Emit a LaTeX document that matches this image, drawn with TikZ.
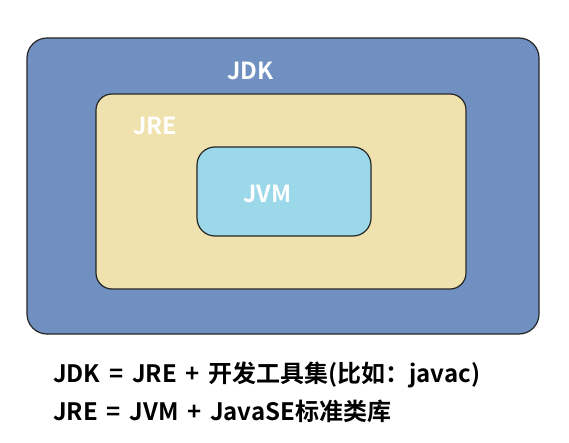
\documentclass[tikz,border=0pt]{standalone}
\usepackage{fontspec}
\newfontfamily\cjk{Noto Sans CJK SC}[BoldFont={* Bold},WordSpace={1.6}]
\definecolor{jdkblue}{HTML}{6F90C0}
\definecolor{jrebeige}{HTML}{F0E2AE}
\definecolor{jvmcyan}{HTML}{9BD9EA}
\begin{document}
\begin{tikzpicture}[x=1pt,y=-1pt,
  box/.style={draw=black!85,line width=1.2pt},
  lbl/.style={text=white,font=\cjk\bfseries\fontsize{23.5}{26}\selectfont,inner sep=0pt,anchor=base west},
  eq/.style={text=black,font=\cjk\bfseries\fontsize{24}{26}\selectfont,inner sep=0pt,anchor=base west}]
\useasboundingbox (0,0) rectangle (569,443);
\fill[white] (0,0) rectangle (569,443);
\draw[box,fill=jdkblue,rounded corners=20pt] (27,38) rectangle (539,334);
\draw[box,fill=jrebeige,rounded corners=16pt] (96,94) rectangle (466,289);
\draw[box,fill=jvmcyan,rounded corners=18pt] (197,147) rectangle (371,236);
\node[lbl] (jdk) at (227,80) {JDK};
\node[lbl] (jre) at (133,135) {JRE};
\node[lbl] (jvm) at (243,203) {JVM};
\node[eq] (l1) at (53,382) {JDK = JRE + 开发工具集(比如：javac)};
\node[eq] (l2) at (53,420) {JRE = JVM + JavaSE标准类库};
\end{tikzpicture}
\end{document}
